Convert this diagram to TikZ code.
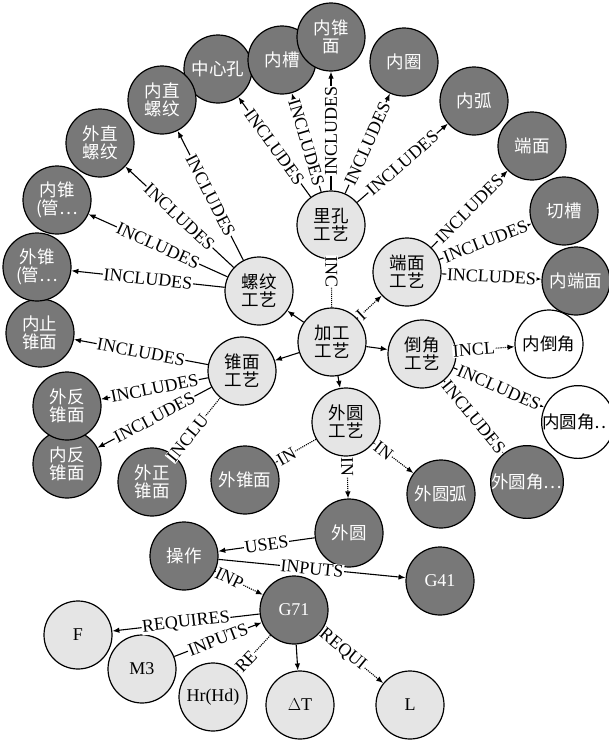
\documentclass[tikz,border=0pt]{standalone}
\usepackage{fontspec}
\setmainfont{Liberation Serif}
\newfontfamily\cjk{Noto Sans CJK SC}
\usetikzlibrary{arrows.meta}
\definecolor{scuro}{gray}{0.47}
\definecolor{chiaro}{gray}{0.9}
\tikzset{
  nodo/.style={circle,draw,line width=1.2pt,minimum size=68pt,inner sep=0pt,align=center,font=\fontsize{18}{19}\selectfont},
  zh/.style={font=\cjk\fontsize{17.5}{18}\selectfont},
  proc/.style={nodo,zh,fill=chiaro},
  pezzo/.style={nodo,zh,fill=scuro,text=white},
  vuoto/.style={nodo,zh,fill=white},
  rel/.style={-{Latex[length=7pt,width=5.5pt]},line width=1.1pt},
  tronco/.style={rel,densely dotted},
  lbl/.style={fill=white,inner sep=0.6pt,sloped,font=\fontsize{18}{18}\selectfont},
}

\begin{document}
\begin{tikzpicture}[x=1pt,y=-1pt]
  \useasboundingbox (0,0) rectangle (609,740);

  % processi
  \node[proc] (jg) at (332,342) {加工\\工艺};
  \node[proc] (lk) at (331,225) {里孔\\工艺};
  \node[proc] (lw) at (259,291) {螺纹\\工艺};
  \node[proc] (zm) at (242,371) {锥面\\工艺};
  \node[proc] (dm) at (407,272) {端面\\工艺};
  \node[proc] (dj) at (422,354) {倒角\\工艺};
  \node[proc] (wy) at (346,422) {外圆\\工艺};

  % pezzi in alto
  \node[pezzo] (zxk) at (218,69) {中心孔};
  \node[pezzo] (nc) at (282,60) {内槽};
  \node[pezzo] (nzm) at (331,37) {内锥\\面};
  \node[pezzo] (nq) at (404,62) {内圈};
  \node[pezzo] (nh) at (474,101) {内弧};
  \node[pezzo] (dmian) at (532,146) {端面};
  \node[pezzo] (qc) at (564,211) {切槽};
  \node[pezzo] (ndm) at (576,281) {内端面};
  \node[vuoto] (ndj) at (549,344) {内倒角};
  \node[vuoto] (nyj) at (578,422) {内圆角…};
  \node[pezzo] (wyj) at (527,482) {外圆角…};
  \node[pezzo] (wyh) at (441,494) {外圆弧};
  \node[pezzo] (wyuan) at (349,533) {外圆};
  \node[pezzo] (wzm) at (245,480) {外锥面};
  \node[pezzo] (wzz) at (152,482) {外正\\锥面};
  \node[pezzo] (nfz) at (67,464) {内反\\锥面};
  \node[pezzo] (wfz) at (67,406) {外反\\锥面};
  \node[pezzo] (nzz) at (40,333) {内止\\锥面};
  \node[pezzo] (wzg) at (37,267) {外锥\\(管…};
  \node[pezzo] (nzg) at (57,200) {内锥\\(管…};
  \node[pezzo] (wzl) at (100,143) {外直\\螺纹};
  \node[pezzo] (nzl) at (162,100) {内直\\螺纹};

  % operazione e codici
  \node[pezzo] (cz) at (184,556) {操作};
  \node[nodo,fill=scuro,text=white] (g71) at (294,610) {G71};
  \node[nodo,fill=scuro,text=white] (g41) at (440,581) {G41};
  \node[nodo,fill=chiaro] (f) at (78,635) {F};
  \node[nodo,fill=chiaro] (m3) at (142,669) {M3};
  \node[nodo,fill=chiaro] (hr) at (213,697) {Hr(Hd)};
  \node[nodo,fill=chiaro] (dt) at (300,705) {$\Delta$T};
  \node[nodo,fill=chiaro] (l) at (410,705) {L};

  % archi
  \foreach \t in {zxk,nc,nzm,nq,nh}
    \draw[rel] (lk) -- node[lbl]{INCLUDES} (\t);
  \foreach \t in {nzl,wzl,nzg,wzg}
    \draw[rel] (lw) -- node[lbl]{INCLUDES} (\t);
  \foreach \t in {nzz,wfz,nfz}
    \draw[rel] (zm) -- node[lbl]{INCLUDES} (\t);
  \foreach \t in {dmian,qc,ndm}
    \draw[rel] (dm) -- node[lbl]{INCLUDES} (\t);
  \foreach \t in {nyj,wyj}
    \draw[rel] (dj) -- node[lbl]{INCLUDES} (\t);
  \draw[tronco] (zm) -- node[lbl,pos=0.7]{INCLU} (wzz);
  \draw[tronco] (dj) -- node[lbl,pos=0.3]{INCL} (ndj);
  \draw[tronco] (wy) -- node[lbl,pos=0.72]{IN} (wzm);
  \draw[tronco] (wy) -- node[lbl,pos=0.25]{IN} (wyuan);
  \draw[tronco] (wy) -- node[lbl,pos=0.25]{IN} (wyh);
  \draw[tronco] (jg) -- node[lbl,pos=0.75]{INC} (lk);
  \draw[tronco] (jg) -- node[lbl,pos=0.15]{I} (dm);
  \foreach \t in {dj,wy,lw,zm}
    \draw[rel] (jg) -- (\t);

  \draw[rel] (wyuan) -- node[lbl]{USES} (cz);
  \draw[rel] (cz) -- node[lbl]{INPUTS} (g41);
  \draw[tronco] (cz) -- node[lbl,pos=0.3]{INP} (g71);
  \draw[rel] (g71) -- node[lbl]{REQUIRES} (f);
  \draw[rel] (m3) -- node[lbl]{INPUTS} (g71);
  \draw[tronco] (g71) -- node[lbl,pos=0.72]{RE} (hr);
  \draw[rel] (g71) -- (dt);
  \draw[tronco] (g71) -- node[lbl,pos=0.35]{REQUI} (l);
\end{tikzpicture}
\end{document}
